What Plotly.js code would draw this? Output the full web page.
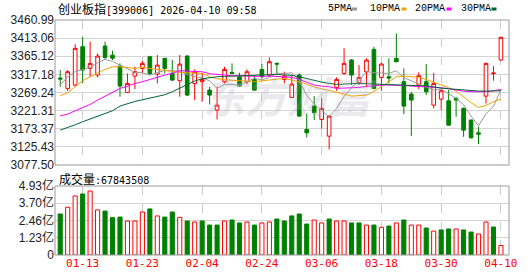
<!DOCTYPE html>
<html>
<head>
<meta charset="utf-8">
<script src="https://cdn.plot.ly/plotly-3.0.1.min.js"></script>
<style>html,body{margin:0;padding:0;background:#fff;}#chart{width:530px;height:276px;}</style>
</head>
<body>
<div id="chart"></div>
<script>
// ---- data ----
const dates = ['01-08','01-09','01-12','01-13','01-14','01-15','01-16','01-19','01-20','01-21','01-22','01-23','01-26','01-27','01-28','01-29','01-30','02-02','02-03','02-04','02-05','02-06','02-09','02-10','02-11','02-12','02-13','02-24','02-25','02-26','02-27','03-02','03-03','03-04','03-05','03-06','03-09','03-10','03-11','03-12','03-13','03-16','03-17','03-18','03-19','03-20','03-23','03-24','03-25','03-26','03-27','03-30','03-31','04-01','04-02','04-03','04-07','04-08','04-09','04-10'];

const openP  = [3307.5,3280.0,3288.9,3390.4,3333.0,3315.4,3392.1,3368.0,3339.2,3269.4,3312.7,3333.0,3363.9,3318.0,3359.5,3319.8,3300.3,3365.7,3293.3,3297.7,3275.6,3222.7,3297.7,3322.4,3310.9,3297.7,3303.9,3330.3,3315.4,3346.2,3303.9,3256.2,3315.4,3171.5,3233.3,3197.9,3153.8,3282.7,3319.8,3355.1,3295.1,3324.2,3383.3,3309.2,3310.9,3359.5,3297.7,3265.0,3288.9,3297.7,3235.9,3251.8,3247.4,3253.6,3227.1,3196.2,3162.6,3259.7,3318.9,3355.1];
const highP  = [3328.6,3328.6,3396.6,3416.9,3403.6,3372.7,3403.6,3379.8,3346.2,3319.8,3337.4,3352.4,3366.5,3368.3,3361.2,3355.1,3368.3,3368.3,3330.3,3321.5,3284.5,3284.5,3337.4,3346.2,3321.5,3330.3,3315.4,3344.5,3362.1,3348.9,3324.2,3315.4,3319.8,3213.8,3259.7,3253.6,3209.4,3309.2,3386.0,3357.7,3341.8,3359.5,3390.4,3348.0,3359.5,3425.7,3333.0,3271.2,3322.4,3344.5,3321.5,3280.0,3275.6,3257.9,3229.8,3197.9,3178.5,3348.0,3339.2,3416.9];
const lowP   = [3284.5,3273.0,3284.5,3293.3,3310.9,3309.2,3355.1,3355.0,3258.0,3268.6,3278.3,3319.8,3315.4,3293.3,3319.8,3299.4,3258.0,3259.7,3249.2,3244.7,3237.6,3197.9,3293.3,3318.0,3284.5,3291.5,3273.9,3306.5,3310.9,3319.8,3293.3,3256.2,3205.0,3150.3,3196.2,3174.1,3118.5,3273.9,3315.4,3288.9,3288.9,3284.5,3277.4,3273.9,3293.3,3348.9,3212.1,3153.8,3278.3,3262.4,3227.1,3222.7,3182.0,3205.0,3152.0,3147.6,3132.6,3240.3,3300.3,3353.3];
const closeP = [3305.0,3324.2,3386.0,3328.6,3346.2,3365.7,3362.1,3360.0,3286.2,3293.3,3324.2,3346.2,3319.8,3341.8,3333.0,3302.1,3344.5,3262.4,3324.2,3303.9,3262.4,3235.9,3330.3,3319.8,3286.2,3324.2,3275.6,3310.9,3350.7,3344.5,3312.7,3291.5,3206.8,3162.6,3215.6,3227.1,3206.8,3303.9,3346.2,3315.4,3309.2,3355.1,3280.0,3344.5,3307.4,3350.7,3233.3,3249.2,3313.6,3271.2,3293.3,3273.9,3182.9,3249.2,3169.7,3149.4,3159.1,3346.2,3320.6,3415.1];

const ma5  = [3288.9,3310.9,3324.2,3330.4,3335.6,3348.0,3356.8,3351.5,3342.7,3332.1,3322.4,3321.5,3315.4,3321.5,3327.7,3326.8,3325.9,3317.1,3312.7,3307.4,3300.3,3280.0,3290.6,3290.6,3288.0,3298.6,3306.5,3303.0,3309.2,3320.6,3318.9,3321.5,3301.2,3261.5,3238.6,3220.9,3205.0,3227.1,3258.9,3281.8,3300.3,3325.1,3321.5,3320.6,3319.8,3326.8,3308.3,3300.3,3292.4,3284.5,3275.6,3278.3,3265.0,3253.6,3236.8,3206.8,3181.2,3212.9,3232.4,3276.5];
const ma10 = [3260.6,3268.6,3284.5,3300.3,3310.9,3321.5,3330.3,3337.4,3337.4,3334.8,3333.0,3335.6,3333.0,3330.3,3326.8,3324.2,3322.4,3321.5,3320.6,3319.8,3310.9,3305.6,3303.0,3302.1,3301.2,3299.5,3297.7,3300.3,3303.0,3305.6,3306.5,3302.1,3296.8,3291.5,3283.6,3279.1,3274.7,3271.2,3265.0,3259.7,3260.6,3262.4,3272.1,3284.5,3297.7,3310.9,3312.7,3311.8,3309.2,3303.9,3296.8,3289.8,3281.8,3272.9,3256.2,3242.1,3229.7,3235.0,3244.7,3251.8];
const ma20 = [3207.6,3212.1,3220.9,3229.7,3237.7,3249.2,3259.7,3268.6,3280.0,3286.2,3293.3,3297.7,3303.9,3310.9,3315.4,3319.8,3326.8,3325.9,3325.1,3324.2,3318.9,3316.2,3315.4,3313.6,3312.7,3311.8,3310.9,3311.8,3312.7,3311.8,3310.9,3309.2,3303.9,3295.9,3288.9,3286.2,3284.5,3280.0,3280.9,3280.9,3282.7,3285.3,3288.0,3288.9,3288.9,3288.9,3288.0,3286.2,3285.3,3282.7,3282.7,3281.8,3279.2,3275.6,3272.9,3271.2,3271.2,3271.2,3273.9,3277.4];
const ma30 = [3169.7,3175.9,3183.8,3191.8,3198.8,3205.9,3212.9,3220.9,3233.3,3240.3,3245.6,3250.0,3254.4,3258.9,3263.3,3271.2,3280.0,3290.6,3299.5,3305.6,3309.2,3310.9,3311.8,3312.7,3312.7,3313.6,3313.6,3314.5,3315.4,3317.1,3315.4,3314.5,3310.9,3305.6,3300.3,3296.8,3293.3,3290.6,3291.5,3293.3,3293.3,3292.4,3291.5,3291.5,3291.5,3290.6,3288.9,3288.0,3287.1,3287.1,3283.6,3280.9,3279.2,3277.4,3275.6,3273.9,3273.0,3273.0,3273.9,3273.9];

// volume in 亿
const volume = [2.93,3.41,4.22,4.36,4.57,3.22,3.14,2.67,2.71,2.43,2.43,3.07,3.29,2.79,2.71,3.07,2.69,2.43,2.36,2.43,2.14,2.14,2.43,2.50,2.29,2.36,2.14,2.29,2.36,2.57,2.43,2.79,2.93,2.21,2.50,2.29,2.57,2.43,2.43,2.29,2.29,2.14,2.14,1.98,2.07,2.29,2.50,2.14,2.14,1.93,1.71,1.79,1.86,1.86,1.79,1.64,1.50,2.36,2.00,0.68];

const priceTicks = [3077.50,3125.43,3173.37,3221.31,3269.24,3317.18,3365.12,3413.06,3460.99];
const priceTickText = ['3077.50','3125.43','3173.37','3221.31','3269.24','3317.18','3365.12','3413.06','3460.99'];
const volTicks = [0,1.23,2.46,3.70,4.93];
const volTickText = ['0','1.23亿','2.46亿','3.70亿','4.93亿'];
const dateTicks = ['01-13','01-23','02-04','02-24','03-06','03-18','03-30','04-10'];

const titleCode = '[399006] 2026-04-10 09:58';
const titleName = '创业板指';
const volLabel = '成交量';
const volNow = '67843508';
const maNames = ['5PMA','10PMA','20PMA','30PMA'];

// ---- styles ----
const RED = '#ff0000', GREEN = '#008000';
const maColors = ['#999999','#f5a000','#ff00ff','#006633'];
const CJK = 'Noto Sans CJK SC';
const MONO = 'DejaVu Sans Mono';

// volume colour: up/down versus previous close
const volUp = closeP.map((c,i) => i === 0 ? c >= openP[0] : c >= closeP[i-1]);

const traces = [];
traces.push({
  type:'candlestick', x:dates, open:openP, high:highP, low:lowP, close:closeP,
  xaxis:'x', yaxis:'y',
  increasing:{line:{color:RED,width:1}, fillcolor:'#ffffff'},
  decreasing:{line:{color:GREEN,width:1}, fillcolor:GREEN},
  whiskerwidth:0, hoverinfo:'skip', showlegend:false
});
[ma5,ma10,ma20,ma30].forEach((arr,k)=>{
  traces.push({type:'scatter',mode:'lines',x:dates,y:arr,xaxis:'x',yaxis:'y',
    line:{color:maColors[k],width:1},hoverinfo:'skip',showlegend:false});
});
traces.push({
  type:'bar', x:dates, y:volume, xaxis:'x', yaxis:'y2', width:0.55,
  marker:{color:volUp.map(u=>u?'#ffffff':GREEN), line:{color:volUp.map(u=>u?RED:GREEN), width:1}},
  hoverinfo:'skip', showlegend:false
});

// pixel helpers for paper coords (plot area x 55..509, y 20..255)
const L=55, R=509, T=20, B=255;
const px = v => (v-L)/(R-L);
const py = v => (B-v)/(B-T);
const mainBottom = py(165), volTop = py(186);

const annotations = [
  {xref:'paper',yref:'paper',x:px(55.5),y:py(8.5),xanchor:'left',yanchor:'middle',showarrow:false,
   text:'<span style="font-family:Noto Sans CJK SC;font-size:12px">'+titleName+'</span>'+titleCode,
   font:{family:MONO,size:10,color:'#000'}},
  {xref:'paper',yref:'paper',x:px(57),y:py(178),xanchor:'left',yanchor:'middle',showarrow:false,
   text:'<span style="font-family:Noto Sans CJK SC;font-size:12px">'+volLabel+'</span>:'+volNow,
   font:{family:MONO,size:10,color:'#000'}},
  {xref:'paper',yref:'paper',x:px(290),y:py(94),xanchor:'center',yanchor:'middle',showarrow:false,
   text:'<b><i>东方财富</i></b>', font:{family:CJK,size:42,color:'rgba(170,170,190,0.26)'}}
];
const legendX = [325.5,367.5,412.5,459];
const swatchX = [352,401.5,446.5,491.5];
const shapes = [
  {type:'rect',xref:'paper',yref:'paper',x0:0,x1:1,y0:mainBottom,y1:1,line:{color:'#999',width:1},fillcolor:'rgba(0,0,0,0)'},
  {type:'rect',xref:'paper',yref:'paper',x0:0,x1:1,y0:0,y1:volTop,line:{color:'#999',width:1},fillcolor:'rgba(0,0,0,0)'}
];
maNames.forEach((n,k)=>{
  annotations.push({xref:'paper',yref:'paper',x:px(legendX[k]),y:py(8.5),xanchor:'left',yanchor:'middle',
    showarrow:false,text:n,font:{family:'Liberation Mono',size:10,color:'#000'}});
  shapes.push({type:'rect',xref:'paper',yref:'paper',x0:px(swatchX[k]),x1:px(swatchX[k]+5),
    y0:py(10.5),y1:py(7.5),line:{width:0},fillcolor:maColors[k]});
});

const layout = {
  width:530, height:276, margin:{l:L,r:530-R,t:T,b:276-B},
  paper_bgcolor:'#fff', plot_bgcolor:'#fff', showlegend:false,
  xaxis:{type:'category', range:[-0.7,60.08], anchor:'y2', rangeslider:{visible:false},
    tickmode:'array', tickvals:dateTicks, ticktext:dateTicks, ticks:'',
    showgrid:true, gridcolor:'#cccccc', griddash:'dash', gridwidth:1,
    showline:false, zeroline:false,
    tickfont:{family:MONO,size:11,color:RED}},
  yaxis:{domain:[mainBottom,1], range:[3077.50,3460.99], tickmode:'array',
    tickvals:priceTicks, ticktext:priceTickText, showgrid:true, gridcolor:'#d4d4d4',
    zeroline:false, ticks:'', tickfont:{family:'Liberation Sans',size:12,color:'#222'}},
  yaxis2:{domain:[0,volTop], range:[0,4.93], tickmode:'array',
    tickvals:volTicks, ticktext:volTickText, showgrid:true, gridcolor:'#d4d4d4',
    zeroline:false, ticks:'', tickfont:{family:'Liberation Sans, Noto Sans CJK SC',size:12,color:'#222'}},
  annotations:annotations, shapes:shapes
};

Plotly.newPlot('chart', traces, layout, {staticPlot:true, displayModeBar:false});
</script>
</body>
</html>
